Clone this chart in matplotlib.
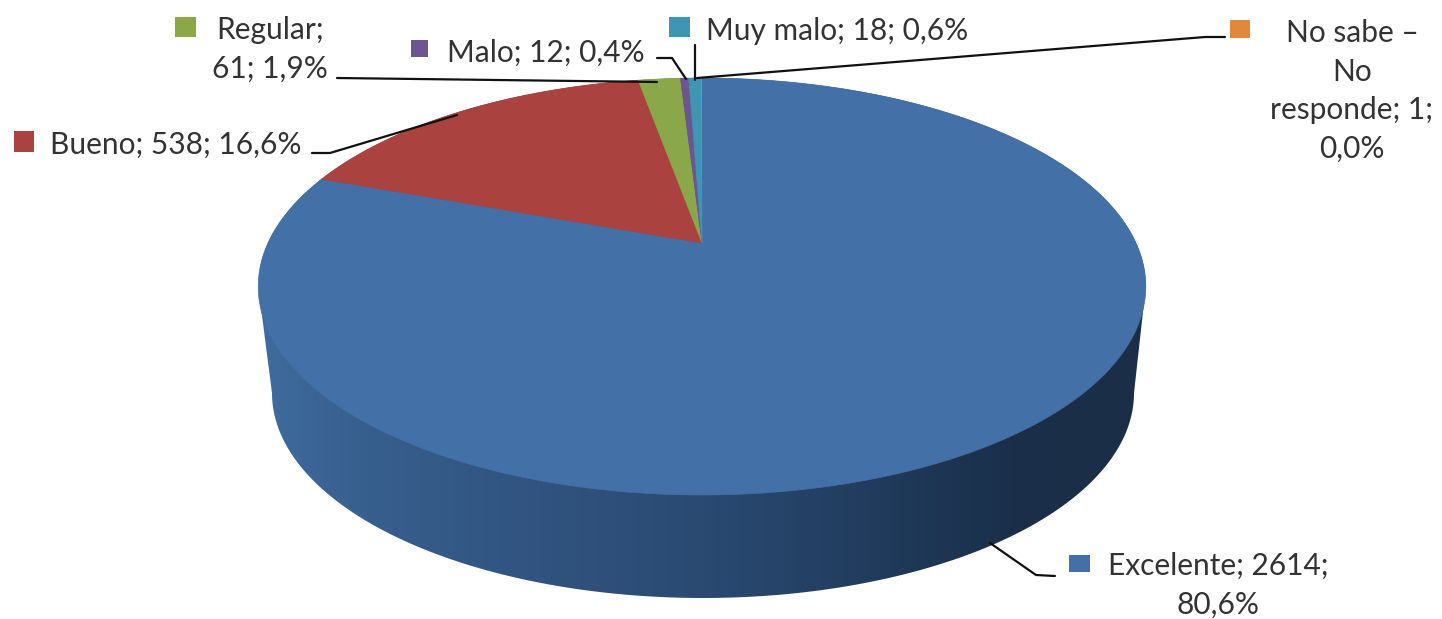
import matplotlib
matplotlib.use('Agg')
import matplotlib.pyplot as plt
import numpy as np
from matplotlib.colors import LinearSegmentedColormap
from matplotlib.patches import Polygon, Rectangle

categories = ['Excelente', 'Bueno', 'Regular', 'Malo', 'Muy malo', 'No sabe – No responde']
counts = [2614, 538, 61, 12, 18, 1]
percents = ['80,6%', '16,6%', '1,9%', '0,4%', '0,6%', '0,0%']
colors = ['#4470a8', '#aa4240', '#8aa84a', '#6d5591', '#3f96b4', '#e0883e']

plt.rcParams['font.family'] = ['Lato', 'DejaVu Sans']

# pie geometry in pixels, top face has perspective so the centre sits above the ellipse middle
cx, cy = 702, 243
a, b, k = 434, 199.4, 0.2086


def top_face(angles):
    x, y = np.sin(angles), np.cos(angles)
    w = 1 + k * y
    return cx + a * x / w, cy - b * y / w


fig = plt.figure(figsize=(14.42, 6.19), dpi=100)
ax = fig.add_axes([0, 0, 1, 1])
ax.set_xlim(0, 1442)
ax.set_ylim(619, 0)
ax.axis('off')

# side of the disc
edge = np.arcsin(k)
t_bottom = np.linspace(np.pi / 2, 3 * np.pi / 2, 200)
bx = 703 + 431 * np.sin(t_bottom)
by = 393 - 205 * np.cos(t_bottom)
tx, ty = top_face(np.linspace(np.pi / 2 + edge, -np.pi / 2 - edge, 300))
side = Polygon(np.r_[np.c_[bx[::-1], by[::-1]], np.c_[tx, ty]], closed=True, fc='none', ec='none')
ax.add_patch(side)
side_cmap = LinearSegmentedColormap.from_list('side', [
    (0.0, '#3f6b9e'), (0.12, '#375f8d'), (0.3, '#315480'), (0.5, '#2a4a72'),
    (0.7, '#213b5c'), (0.85, '#1a2f4a'), (1.0, '#1a2e47')])
grad = ax.imshow(np.linspace(0, 1, 256)[None, :], cmap=side_cmap, extent=(260, 1147, 619, 0), aspect='auto')
grad.set_clip_path(side)
ax.set_xlim(0, 1442)
ax.set_ylim(619, 0)

# top face, clockwise from 12 o'clock
fractions = np.array(counts) / sum(counts)
ends = np.cumsum(fractions) * 2 * np.pi
starts = np.r_[0, ends[:-1]]
for s, e, c, f in zip(starts, ends, colors, fractions):
    xs, ys = top_face(np.linspace(s, e, max(int((e - s) * 80), 4)))
    ax.fill(np.r_[cx, xs], np.r_[cy, ys], color=c, lw=0.5 if f > 0.001 else 0)

# leader lines
line_kw = dict(color='#111111', lw=1.6, solid_capstyle='round')
ax.plot([337, 657], [78, 82], **line_kw)
ax.plot([312, 330, 457], [153, 153, 115], **line_kw)
ax.plot([657, 672, 686], [58, 58, 79], **line_kw)
ax.plot([695, 695], [45, 80], **line_kw)
ax.plot([697, 1205, 1225], [78, 37, 37], **line_kw)
ax.plot([990, 1036, 1055], [543, 575, 576], **line_kw)


def label_text(i):
    return f'{categories[i]}; {counts[i]}; {percents[i]}'


text_kw = dict(fontsize=21.5, color='#333333', va='center')
ax.text(270, 49, 'Regular;\n61; 1,9%', ha='center', linespacing=1.47, **text_kw)
ax.text(447, 53, label_text(3), ha='left', **text_kw)
ax.text(50, 145, label_text(1), ha='left', **text_kw)
ax.text(706, 31, label_text(4), ha='left', **text_kw)
ax.text(1352, 91, 'No sabe –\nNo\nresponde; 1;\n0,0%', ha='center', linespacing=1.47, **text_kw)
ax.text(1218, 585, 'Excelente; 2614;\n80,6%', ha='center', linespacing=1.47, **text_kw)

# legend keys next to the labels
keys = [(1069, 555, 21, 17, 0), (14, 131, 20, 21, 1), (175, 17, 21, 20, 2),
        (411, 40, 17, 17, 3), (669, 17, 21, 20, 4), (1230, 20, 20, 18, 5)]
for x, y, w, h, i in keys:
    ax.add_patch(Rectangle((x, y), w, h, fc=colors[i], ec='none'))

fig.savefig('out.png', dpi=100)
